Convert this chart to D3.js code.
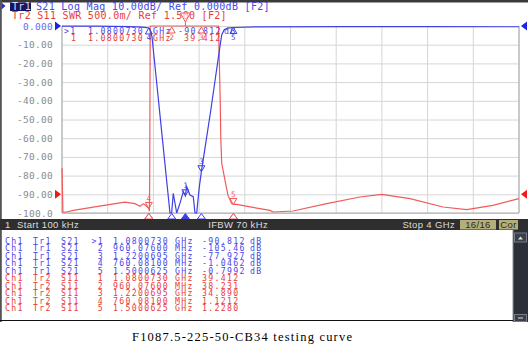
<!DOCTYPE html>
<html>
<head>
<meta charset="utf-8">
<script src="https://cdn.jsdelivr.net/npm/d3@7"></script>
<style>
  body { margin: 0; background: #fff; }
  svg { display: block; }
</style>
</head>
<body>
<svg id="chart" width="530" height="351" font-family="DejaVu Sans Mono, monospace"></svg>
<script>
// stimulus range (GHz)
const startFreq = 0.0001;
const stopFreq = 4;

// Tr1 S21, log mag (dB)
const s21Freq = [0.0001, 0.3, 0.6, 0.7, 0.74, 0.76, 0.775, 0.788, 0.82, 0.87, 0.92, 0.945,
  0.96, 0.974, 1.004, 1.033, 1.062, 1.08, 1.091, 1.12, 1.149, 1.164, 1.179, 1.202, 1.22,
  1.26, 1.30, 1.34, 1.38, 1.398, 1.42, 1.45, 1.5, 1.7, 2.5, 3.2, 4.0];
const s21Db = [-0.05, -0.1, -0.3, -0.6, -0.9, -1.05, -2.5, -6, -25, -55, -85, -100,
  -105.5, -89.5, -103, -94.7, -88.6, -90.8, -85.9, -90.4, -91.3, -104, -102, -86, -77.9,
  -62, -46, -29, -12, -4.8, -2, -1.1, -0.8, -0.5, -0.3, -0.35, -0.4];

// Tr2 S11, SWR
const swrFreq = [0.0001, 0.008, 0.03, 0.1, 0.3, 0.55, 0.639, 0.683, 0.712, 0.741, 0.76, 0.765,
  0.768, 0.772, 0.96, 1.08, 1.22, 1.37, 1.385, 1.39, 1.398, 1.427, 1.453, 1.485, 1.5,
  1.529, 1.672, 1.82, 1.849, 2.022, 2.317, 2.608, 2.798, 3.046, 3.335, 3.542, 3.772, 4.0];
const swrVal = [2.2, 1.03, 1.02, 1.07, 1.17, 1.29, 1.25, 1.18, 1.25, 1.18, 1.12, 1.05,
  2.0, 10, 38.2, 39.4, 34.9, 12, 4.0, 3.0, 2.33, 1.874, 1.47, 1.25, 1.228,
  1.23, 1.15, 1.07, 1.027, 1.053, 1.251, 1.428, 1.5, 1.385, 1.16, 1.091, 1.206, 1.385];

// markers
const markerNo = [1, 2, 3, 4, 5];
const markerFreq = [1.0800730, 0.9607600, 1.2200695, 0.7600810, 1.5000625];
const markerFreqText = ["1.0800730", "960.07600", "1.2200695", "760.08100", "1.5000625"];
const markerUnit = ["GHz", "MHz", "GHz", "MHz", "GHz"];
const markerS21 = [-90.812, -105.46, -77.927, -1.0462, -0.7992];
const markerS21Text = ["-90.812", "-105.46", "-77.927", "-1.0462", "-0.7992"];
const markerSwr = [39.412, 38.231, 34.890, 1.1212, 1.2280];
const markerSwrText = ["39.412", "38.231", "34.890", "1.1212", "1.2280"];

// y axis (Tr1 scale)
const yTicks = [0, -10, -20, -30, -40, -50, -60, -70, -80, -90, -100];
const yTickLabels = ["0.000", "-10.00", "-20.00", "-30.00", "-40.00", "-50.00",
  "-60.00", "-70.00", "-80.00", "-90.00", "-100.0"];
const swrRef = 1.5, swrPerDiv = 0.5, swrRefDiv = 1; // ref line one division above bottom

const blue = "#3f3fe6", red = "#f25a5a";
const blueText = "#4848e8", redText = "#e83c3c";

const plot = { left: 62, right: 519, top: 26, bottom: 213 };

const svg = d3.select("#chart");

const x = d3.scaleLinear().domain([startFreq, stopFreq]).range([plot.left, plot.right]);
const yDb = d3.scaleLinear().domain([-100, 0]).range([plot.bottom, plot.top]).clamp(true);
const ySwr = d3.scaleLinear()
  .domain([swrRef - swrRefDiv * swrPerDiv, swrRef + (10 - swrRefDiv) * swrPerDiv])
  .range([plot.bottom, plot.top]).clamp(true);

// screen frame
svg.append("rect").attr("x", 0).attr("y", 0).attr("width", 528).attr("height", 2.5).attr("fill", "#3a3a3a");
svg.append("rect").attr("x", 0).attr("y", 0).attr("width", 1.8).attr("height", 322).attr("fill", "#555");

// header
svg.append("path").attr("d", "M1.5,2.5 L5.5,6 L1.5,9.5 Z").attr("fill", "#2a2ad0");
svg.append("rect").attr("x", 10).attr("y", 2.5).attr("width", 21).attr("height", 8.5).attr("fill", "#161660");
svg.append("text").attr("x", 12).attr("y", 10).attr("font-size", 10).attr("letter-spacing", 0.3)
  .attr("fill", "#d8d8ff").text("Tr1");
svg.append("text").attr("x", 36).attr("y", 10).attr("font-size", 10).attr("letter-spacing", 0.3)
  .attr("fill", blueText).attr("xml:space", "preserve")
  .text("S21 Log Mag 10.00dB/ Ref 0.000dB [F2]");
svg.append("text").attr("x", 12).attr("y", 19).attr("font-size", 10).attr("letter-spacing", 0.3)
  .attr("fill", redText).attr("xml:space", "preserve")
  .text("Tr2 S11 SWR 500.0m/ Ref 1.500 [F2]");

// grid + y labels
const xGrid = d3.range(11).map(i => startFreq + i * (stopFreq - startFreq) / 10);
svg.append("g").selectAll("line").data(xGrid).join("line")
  .attr("x1", d => x(d)).attr("x2", d => x(d))
  .attr("y1", plot.top).attr("y2", plot.bottom)
  .attr("stroke", "#d6d6d6").attr("stroke-width", 1);

const yAxis = d3.axisLeft(yDb)
  .tickValues(yTicks)
  .tickFormat((d, i) => yTickLabels[i])
  .tickSize(-(plot.right - plot.left))
  .tickPadding(9);
const gy = svg.append("g").attr("transform", `translate(${plot.left},0)`).call(yAxis);
gy.select(".domain").remove();
gy.selectAll(".tick line").attr("stroke", "#d6d6d6");
gy.attr("font-family", "DejaVu Sans Mono, monospace").attr("font-size", 9.5);
gy.selectAll(".tick text")
  .attr("letter-spacing", 0.3)
  .attr("fill", (d, i) => i === 0 ? "#6a6af0" : "#8c8c8c");

// plot frame (left + bottom + right)
svg.append("path")
  .attr("d", `M${plot.left},${plot.top} V${plot.bottom} H${plot.right} V${plot.top}`)
  .attr("fill", "none").attr("stroke", "#a8a8a8").attr("stroke-width", 1);

// reference level arrows
const refTri = (px, py, dir, color) => svg.append("path")
  .attr("d", dir > 0
    ? `M${px},${py - 4.5} L${px + 6},${py} L${px},${py + 4.5} Z`
    : `M${px + 6},${py - 4.5} L${px},${py} L${px + 6},${py + 4.5} Z`)
  .attr("fill", color);
refTri(55, yDb(0), 1, "#2020e0");
refTri(55, ySwr(swrRef), 1, "#f01818");
refTri(521, yDb(0), -1, "#2020e0");
refTri(521, ySwr(swrRef), -1, "#f01818");

// traces
const s21Data = s21Freq.map((f, i) => [f, s21Db[i]]);
const swrData = swrFreq.map((f, i) => [f, swrVal[i]]);

svg.append("path").datum(swrData)
  .attr("d", d3.line().x(d => x(d[0])).y(d => ySwr(d[1])))
  .attr("fill", "none").attr("stroke", red).attr("stroke-width", 1.2);
svg.append("path").datum(s21Data)
  .attr("d", d3.line().x(d => x(d[0])).y(d => yDb(d[1])))
  .attr("fill", "none").attr("stroke", blue).attr("stroke-width", 1.2);

// on-plot marker readout
const readout = svg.append("g").attr("font-size", 8.2).attr("letter-spacing", 1.3);
readout.append("text").attr("x", 64).attr("y", 34).attr("fill", blueText).text(">1");
readout.append("text").attr("x", 88).attr("y", 34).attr("fill", blueText).text(markerFreqText[0]);
readout.append("text").attr("x", 153).attr("y", 34).attr("fill", blueText).text(markerUnit[0]);
readout.append("text").attr("x", 178).attr("y", 34).attr("fill", blueText).text(markerS21Text[0]);
readout.append("text").attr("x", 224).attr("y", 34).attr("fill", blueText).text("dB");
readout.append("text").attr("x", 71).attr("y", 41).attr("fill", redText).text("1");
readout.append("text").attr("x", 88).attr("y", 41).attr("fill", redText).text(markerFreqText[0]);
readout.append("text").attr("x", 153).attr("y", 41).attr("fill", redText).text(markerUnit[0]);
readout.append("text").attr("x", 184).attr("y", 41).attr("fill", redText).text(markerSwrText[0]);

// marker symbols on the traces
const mk = svg.append("g").attr("font-size", 7.5).attr("text-anchor", "middle");
function traceMarker(px, py, label, color) {
  const below = py < plot.top + 18;
  const tri = below
    ? `M${px},${py} L${px - 3.5},${py + 6} L${px + 3.5},${py + 6} Z`
    : `M${px},${py} L${px - 3.5},${py - 6} L${px + 3.5},${py - 6} Z`;
  mk.append("path").attr("d", tri).attr("fill", "none").attr("stroke", color).attr("stroke-width", 1);
  mk.append("text").attr("x", px).attr("y", below ? py + 12.5 : py - 7.5)
    .attr("fill", color).text(label);
}
markerNo.forEach((n, i) => {
  if (markerS21[i] >= -100) traceMarker(x(markerFreq[i]), yDb(markerS21[i]), n, blue);
});
markerNo.forEach((n, i) => {
  const px = x(markerFreq[i]);
  if (markerSwr[i] <= ySwr.domain()[1]) {
    traceMarker(px, ySwr(markerSwr[i]), n, red);
  } else if (i === 0) {
    // active marker off scale: drawn above the grid
    mk.append("path").attr("d", `M${px},${plot.top - 4} L${px - 5},${plot.top - 13} L${px + 5},${plot.top - 13} Z`)
      .attr("fill", "#fff").attr("fill-opacity", 0.6).attr("stroke", red).attr("stroke-width", 1);
    mk.append("line").attr("x1", px).attr("x2", px).attr("y1", plot.top - 4).attr("y2", plot.top)
      .attr("stroke", red);
  } else {
    traceMarker(px, plot.top + 1, n, red);
  }
});

// stimulus indicators under the grid
const ind = svg.append("g");
function indicator(px, color, filled) {
  ind.append("path").attr("d", `M${px},${plot.bottom + 0.5} L${px - 4},${plot.bottom + 6} L${px + 4},${plot.bottom + 6} Z`)
    .attr("fill", filled ? color : "#fff").attr("stroke", color).attr("stroke-width", 1);
}
markerNo.forEach((n, i) => indicator(x(markerFreq[i]), blue, i === 0));
markerNo.forEach((n, i) => {
  if (i > 0 && markerSwr[i] <= ySwr.domain()[1]) indicator(x(markerFreq[i]), red, false);
});

// status bar
svg.append("rect").attr("x", 0).attr("y", 219).attr("width", 528).attr("height", 11).attr("fill", "#2e2e2e");
svg.append("rect").attr("x", 460).attr("y", 220).attr("width", 36).attr("height", 9.5).attr("fill", "#b4ae78");
svg.append("rect").attr("x", 499).attr("y", 220).attr("width", 19).attr("height", 9.5).attr("fill", "#b4ae78");
const sb = svg.append("g").attr("font-family", "Liberation Sans, Arial, sans-serif")
  .attr("font-size", 9.5).attr("letter-spacing", 0.35).attr("fill", "#dcdcdc");
sb.append("text").attr("x", 5).attr("y", 228).text("1");
sb.append("text").attr("x", 17).attr("y", 228).text("Start 100 kHz");
sb.append("text").attr("x", 268).attr("y", 228).attr("text-anchor", "end").text("IFBW 70 kHz");
sb.append("text").attr("x", 455).attr("y", 228).attr("text-anchor", "end").text("Stop 4 GHz");
sb.append("text").attr("x", 478).attr("y", 228).attr("text-anchor", "middle").attr("fill", "#2a2a2a").text("16/16");
sb.append("text").attr("x", 508.5).attr("y", 228).attr("text-anchor", "middle").attr("fill", "#2a2a2a").text("Cor");

// marker table
const rowY = (r) => 244 + r * 7.47;
const rows = [];
markerNo.forEach((n, i) => rows.push({ tr: "Tr1", p: "S21", n: (i === 0 ? ">" : "") + n,
  f: markerFreqText[i], u: markerUnit[i], v: markerS21Text[i], unit: "dB", c: blueText }));
markerNo.forEach((n, i) => rows.push({ tr: "Tr2", p: "S11", n: String(n),
  f: markerFreqText[i], u: markerUnit[i], v: markerSwrText[i], unit: "", c: redText }));

const tbl = svg.append("g").attr("font-size", 8.2).attr("letter-spacing", 1.3);
const row = tbl.selectAll("g").data(rows).join("g")
  .attr("transform", (d, i) => `translate(0,${rowY(i)})`)
  .attr("fill", d => d.c);
row.append("text").attr("x", 5).text("Ch1");
row.append("text").attr("x", 33).text(d => d.tr);
row.append("text").attr("x", 61).text(d => d.p);
row.append("text").attr("x", 104).attr("text-anchor", "end").text(d => d.n);
row.append("text").attr("x", 113).text(d => d.f);
row.append("text").attr("x", 175).text(d => d.u);
row.append("text").attr("x", 202).text(d => d.v);
row.append("text").attr("x", 250).text(d => d.unit);

// scrollbar
svg.append("rect").attr("x", 513).attr("y", 230).attr("width", 15).attr("height", 92).attr("fill", "#2b2f38");
svg.append("line").attr("x1", 513).attr("x2", 513).attr("y1", 230).attr("y2", 322).attr("stroke", "#8a8d94");
svg.append("rect").attr("x", 514.5).attr("y", 233).attr("width", 12).attr("height", 9)
  .attr("fill", "#3a3f4a").attr("stroke", "#777c86");
svg.append("path").attr("d", "M518,239.5 L520.5,236.5 L523,239.5 Z").attr("fill", "#e0e0e0");
svg.append("rect").attr("x", 514.5).attr("y", 314.5).attr("width", 12).attr("height", 7)
  .attr("fill", "#3a3f4a").attr("stroke", "#777c86");
svg.append("line").attr("x1", 518).attr("x2", 523).attr("y1", 318).attr("y2", 318).attr("stroke", "#e0e0e0");

// bottom edge of the screenshot
svg.append("line").attr("x1", 0).attr("x2", 513).attr("y1", 320.5).attr("y2", 320.5)
  .attr("stroke", "#111").attr("stroke-width", 1.2);

// caption
svg.append("text").attr("x", 132).attr("y", 341)
  .attr("font-family", "Liberation Serif, Times New Roman, serif")
  .attr("font-size", 12.5).attr("textLength", 220).attr("lengthAdjust", "spacing")
  .attr("fill", "#000").text("F1087.5-225-50-CB34 testing curve");
</script>
</body>
</html>
